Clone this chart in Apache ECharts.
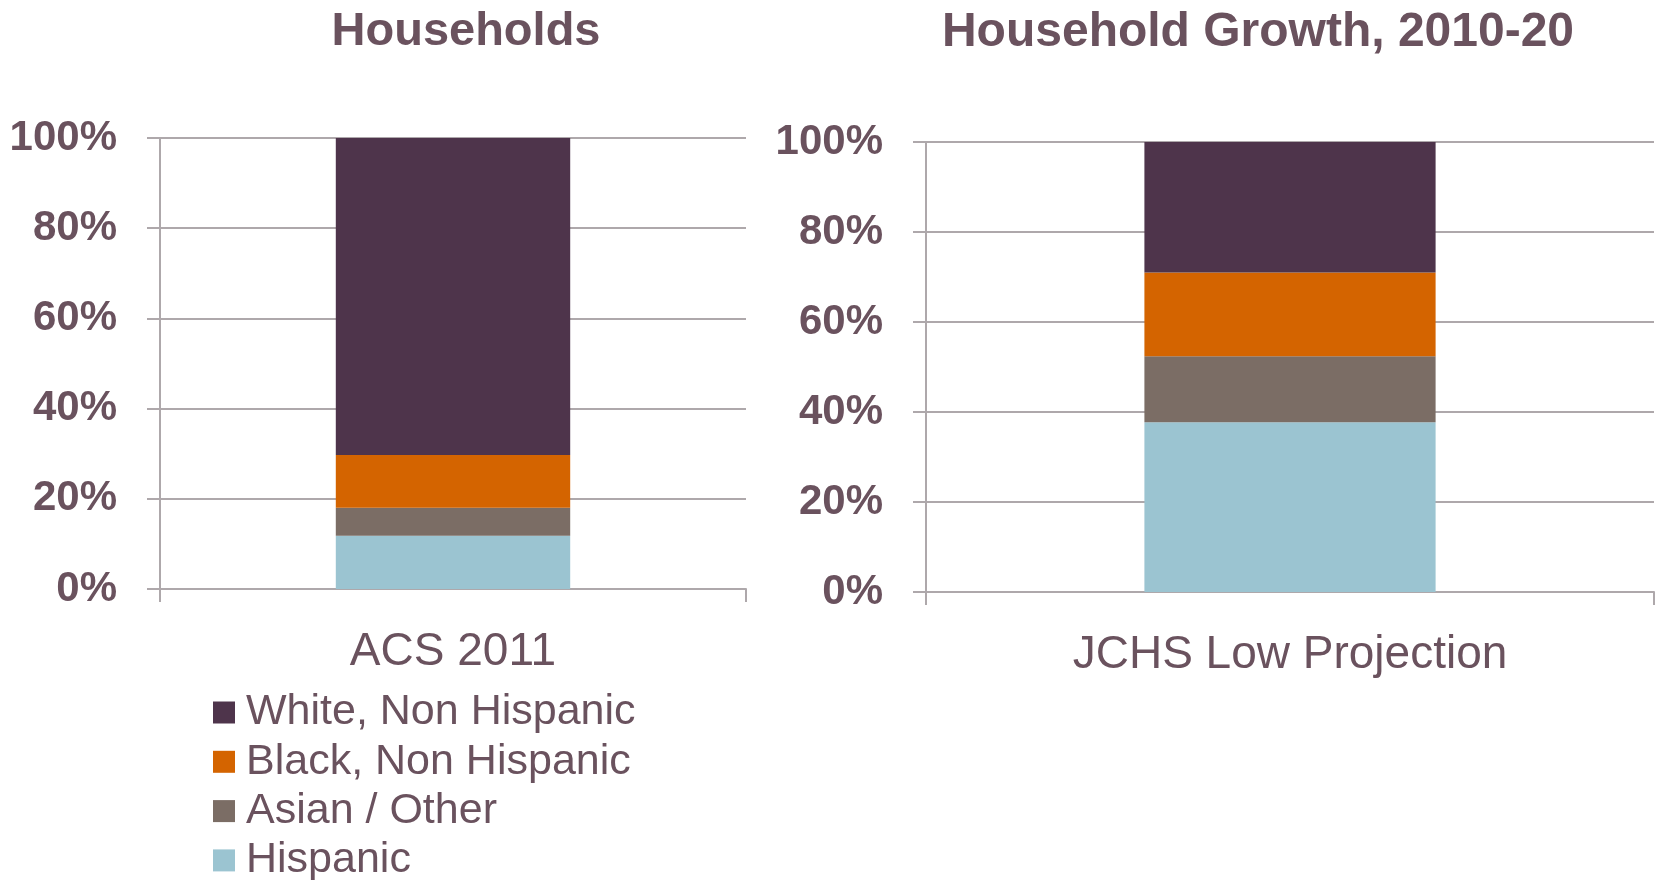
<!DOCTYPE html>
<html>
<head>
<meta charset="utf-8">
<title>Households</title>
<script src="https://cdn.jsdelivr.net/npm/echarts@6/dist/echarts.min.js"></script>
<style>
  html, body { margin: 0; padding: 0; background: #fff; }
  #chart { width: 1656px; height: 880px; }
</style>
</head>
<body>
<div id="chart"></div>
<script>
  /** categories, one per panel */
  const leftCategories = ['ACS 2011']
  const rightCategories = ['JCHS Low Projection']

  /** panel titles */
  const panelTitles = ['Households', 'Household Growth, 2010-20']

  /** series names, bottom of stack first */
  const seriesNames = ['Hispanic', 'Asian / Other', 'Black, Non Hispanic', 'White, Non Hispanic']

  /** shares (%), same order as seriesNames */
  const leftValues = [11.8, 6.2, 11.7, 70.3]
  const rightValues = [37.7, 14.7, 18.6, 29.0]

  /** y axis ticks */
  const yTicks = [0, 20, 40, 60, 80, 100]

  const colors = ['#9BC4D1', '#7B6D65', '#D46400', '#4E344B']
  const textColor = '#6A525E'
  const gridColor = '#AEA8AB'
  const fontFamily = "'Liberation Sans', Arial, sans-serif"

  const chart = echarts.init(document.getElementById('chart'))

  /** one y axis per panel */
  const makeYAxis = (gridIndex) => ({
    gridIndex: gridIndex,
    type: 'value',
    min: yTicks[0],
    max: yTicks[yTicks.length - 1],
    interval: yTicks[1] - yTicks[0],
    axisLine: { show: true, lineStyle: { color: gridColor, width: 2 } },
    axisTick: { show: true, length: 13, lineStyle: { color: gridColor, width: 2 } },
    splitLine: { show: true, lineStyle: { color: gridColor, width: 2 } },
    axisLabel: {
      formatter: '{value}%',
      margin: 43,
      color: textColor,
      fontSize: 42,
      fontWeight: 'bold',
      fontFamily: fontFamily
    }
  })

  /** one category axis per panel */
  const makeXAxis = (gridIndex, data) => ({
    gridIndex: gridIndex,
    type: 'category',
    data: data,
    axisLine: { show: true, lineStyle: { color: gridColor, width: 2 } },
    axisTick: { show: true, length: 13, lineStyle: { color: gridColor, width: 2 } },
    axisLabel: {
      margin: 40,
      color: textColor,
      fontSize: 46,
      fontFamily: fontFamily
    }
  })

  const series = []
  seriesNames.forEach((name, i) => {
    series.push({
      name: name,
      type: 'bar',
      stack: 'left',
      xAxisIndex: 0,
      yAxisIndex: 0,
      barWidth: '40%',
      itemStyle: { color: colors[i] },
      data: [leftValues[i]]
    })
    series.push({
      name: name,
      type: 'bar',
      stack: 'right',
      xAxisIndex: 1,
      yAxisIndex: 1,
      barWidth: '40%',
      itemStyle: { color: colors[i] },
      data: [rightValues[i]]
    })
  })

  chart.setOption({
    animation: false,
    title: [
      {
        text: panelTitles[0],
        left: 461,
        top: 4,
        textAlign: 'center',
        textStyle: { color: textColor, fontSize: 47, fontWeight: 'bold', fontFamily: fontFamily }
      },
      {
        text: panelTitles[1],
        left: 1253,
        top: 4,
        textAlign: 'center',
        textStyle: { color: textColor, fontSize: 48, fontWeight: 'bold', fontFamily: fontFamily }
      }
    ],
    legend: {
      orient: 'vertical',
      left: 213,
      top: 691,
      padding: 0,
      height: 300,
      itemWidth: 22,
      itemHeight: 22,
      itemGap: 6.3,
      icon: 'rect',
      data: seriesNames.slice().reverse(),
      textStyle: {
        color: textColor,
        fontSize: 43,
        lineHeight: 43,
        fontFamily: fontFamily,
        padding: [0, 0, 0, 6]
      }
    },
    grid: [
      { left: 160, right: 910, top: 138, bottom: 291 },
      { left: 926, right: 2, top: 142, bottom: 288 }
    ],
    xAxis: [makeXAxis(0, leftCategories), makeXAxis(1, rightCategories)],
    yAxis: [makeYAxis(0), makeYAxis(1)],
    series: series
  })
</script>
</body>
</html>
